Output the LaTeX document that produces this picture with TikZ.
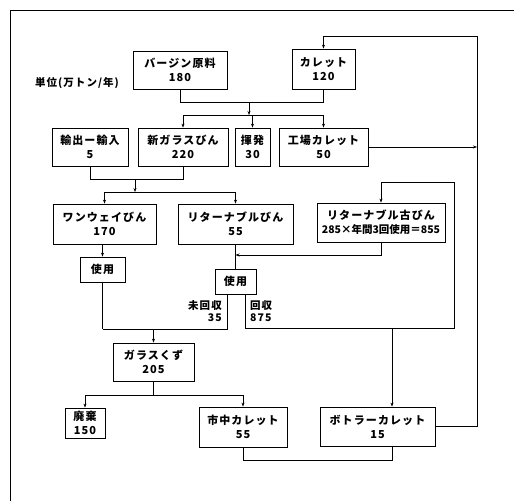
\documentclass[tikz,border=0pt]{standalone}
\usepackage{fontspec}
\setmainfont{Noto Sans CJK JP}[LetterSpace=10]
\usetikzlibrary{arrows.meta}
\begin{document}
\begin{tikzpicture}[x=1pt,y=-1pt,
  box/.style={draw,line width=0.8pt,align=center,inner sep=0pt,font=\fontsize{11}{14}\selectfont\bfseries},
  conn/.style={line width=0.8pt},
  arr/.style={line width=0.8pt,-{Stealth[length=4pt,width=3pt]}},
  lbl/.style={font=\fontsize{10.5}{12.5}\selectfont\bfseries,inner sep=0pt}]
\useasboundingbox (0,0) rectangle (514,501);
% frame
\draw[line width=0.9pt] (514,10) -- (10,10) -- (10,501);
% nodes
\node[box,minimum width=94pt,minimum height=38pt] (virgin) at (180,70) {バージン原料\\180};
\node[box,minimum width=63pt,minimum height=40pt] (cullet) at (323.5,69) {カレット\\120};
\node[lbl] (unit) at (77,83) {単位(万トン/年)};
\node[box,minimum width=76pt,minimum height=38pt] (export) at (90,147) {輸出ー輸入\\5};
\node[box,minimum width=90pt,minimum height=38pt] (newglass) at (183,147) {新ガラスびん\\220};
\node[box,minimum width=35pt,minimum height=38pt] (volat) at (252.5,147) {揮発\\30};
\node[box,minimum width=89pt,minimum height=38pt] (factory) at (323.5,147) {工場カレット\\50};
\node[box,minimum width=103pt,minimum height=40pt] (oneway) at (104.5,224) {ワンウェイびん\\170};
\node[box,minimum width=115pt,minimum height=40pt] (returnable) at (235.5,224) {リターナブルびん\\55};
\node[box,minimum width=128pt,minimum height=39pt] (oldret) at (381,222.5) {リターナブル古びん\\{\fontsize{10.5}{14}\selectfont\addfontfeature{LetterSpace=0}285×年間3回使用＝855}};
\node[box,minimum width=45pt,minimum height=25pt] (use1) at (102.5,269.5) {使用};
\node[box,minimum width=41pt,minimum height=25pt] (use2) at (235.5,281.5) {使用};
\node[box,minimum width=81pt,minimum height=38pt] (scrap) at (153.5,362) {ガラスくず\\205};
\node[box,minimum width=40pt,minimum height=30pt] (waste) at (85,423) {廃棄\\150};
\node[box,minimum width=88pt,minimum height=40pt] (city) at (243,427) {市中カレット\\55};
\node[box,minimum width=115pt,minimum height=39pt] (bottler) at (377.5,426.5) {ボトラーカレット\\15};
\node[lbl,anchor=north east,align=right] (unrec) at (222,300) {未回収\\35};
\node[lbl,anchor=north west,align=left] (rec) at (250,300) {回収\\875};
% coordinates
\coordinate (j1) at (249,102);
\coordinate (j2) at (249,115);
\coordinate (j3) at (135,179);
\coordinate (j4) at (135,192);
\coordinate (j5) at (102.5,329);
\coordinate (j6) at (153.5,329);
\coordinate (j7) at (153.5,395);
\coordinate (j8) at (392,328);
\coordinate (j9) at (235.5,255);
\coordinate (j10) at (477,147);
\coordinate (j11) at (392,460);
% top merge
\draw[conn] (virgin.south) |- (j1);
\draw[conn] (cullet.south) |- (j1);
\draw[arr] (j1) -- (j2);
\draw[conn] (newglass.north |- j2) -- (factory.north |- j2);
\draw[arr] (newglass.north |- j2) -- (newglass.north);
\draw[arr] (volat.north |- j2) -- (volat.north);
\draw[arr] (factory.north |- j2) -- (factory.north);
% second merge
\draw[conn] (export.south) |- (j3);
\draw[conn] (newglass.south) |- (j3);
\draw[arr] (j3) -- (j4);
\draw[conn] (oneway.north |- j4) -- (returnable.north |- j4);
\draw[arr] (oneway.north |- j4) -- (oneway.north);
\draw[arr] (returnable.north |- j4) -- (returnable.north);
% factory cullet to outer loop
\draw[arr] (factory.east) -- (j10);
% outer loop bottler -> cullet
\draw[arr] (bottler.east) -| (477,36) -| (cullet.north);
% returnable old loop
\draw[arr] (oldret.south) |- (j9);
\draw[conn] (returnable.south) -- (use2.north);
\draw[conn] ([xshift=-8.5pt]use2.south) |- (j5);
\draw[arr] ([xshift=9.5pt]use2.south) |- (454,328) |- (381,182) -- (oldret.north);
\draw[arr] (j8) -- (j8 |- bottler.north);
% one-way use
\draw[arr] (use1.north |- oneway.south) -- (use1.north);
\draw[conn] (use1.south) -- (j5);
\draw[arr] (j6) -- (scrap.north);
% scrap split
\draw[conn] (scrap.south) -- (j7);
\draw[conn] (waste.north |- j7) -- (city.north |- j7);
\draw[arr] (waste.north |- j7) -- (waste.north);
\draw[arr] (city.north |- j7) -- (city.north);
% city -> bottler
\draw[conn] (city.south) |- (j11) -- (j11 |- bottler.south);
\end{tikzpicture}
\end{document}
